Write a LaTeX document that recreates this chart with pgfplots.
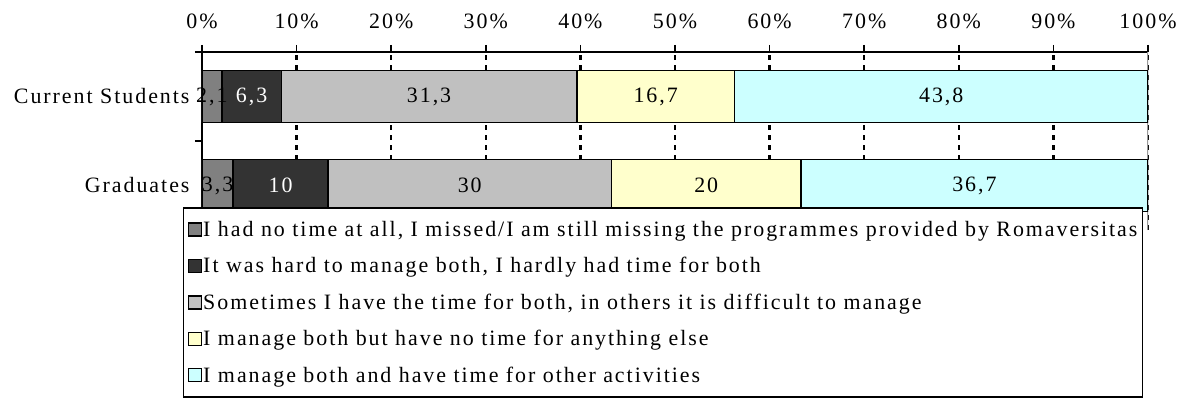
\documentclass[border=0pt]{standalone}
\usepackage{pgfplots}
\pgfplotsset{compat=1.18}
\usepackage{pgfplotstable}
\usepackage{fontspec}
\setmainfont{Liberation Serif}[LetterSpace=9]
\definecolor{c1}{HTML}{808080}
\definecolor{c2}{HTML}{333333}
\definecolor{c3}{HTML}{C0C0C0}
\definecolor{c4}{HTML}{FFFFCC}
\definecolor{c5}{HTML}{CCFFFF}
\pgfplotsset{sqlegend/.style={legend image code/.code={\draw[##1,line width=1.5bp] (0bp,-6.5bp) rectangle (13bp,6.5bp);}}}
% y: 1 = Current Students, 0 = Graduates.
% Current Students values are rescaled to a 100% total (their raw sum is 100.2); labels keep the raw values.
\pgfplotstableread{
y x lab
1 2.0958 2,1
0 3.3 3,3
}\sA
\pgfplotstableread{
y x lab
1 6.2874 6,3
0 10 10
}\sB
\pgfplotstableread{
y x lab
1 31.2375 31,3
0 30 30
}\sC
\pgfplotstableread{
y x lab
1 16.6667 16,7
0 20 20
}\sD
\pgfplotstableread{
y x lab
1 43.7126 43,8
0 36.7 36,7
}\sE
\begin{document}
\begin{tikzpicture}[font=\fontsize{22}{26}\selectfont]
\begin{axis}[name=ax, scale only axis, width=946bp, height=178bp,
  xbar stacked, bar width=52bp,
  every axis plot post/.append style={sqlegend},
  xmin=0, xmax=100, ymin=-0.5, ymax=1.5,
  axis x line*=top, axis y line*=left,
  axis line style={black, line width=1.5bp},
  xtick={0,10,...,100},
  xticklabel={\pgfmathprintnumber{\tick}\%},
  xticklabel style={yshift=13bp},
  /pgf/number format/assume math mode=true,
  xmajorgrids, major grid style={black, line width=2.5bp, dash pattern=on 5bp off 5bp},
  ytick={-0.5,0.5,1.5}, yticklabels={},
  extra y ticks={0,1}, extra y tick labels={Graduates,Current Students},
  extra y tick style={major tick length=0pt, yticklabel style={xshift=-9bp}},
  tick align=outside, major tick length=7bp, tick style={black, line width=1.5bp},
  nodes near coords={\pgfplotspointmeta}, point meta=explicit symbolic,
  every node near coord/.append style={anchor=center, text=black},
  legend style={at={(-0.0201,0.1292)}, anchor=north west, draw=black, line width=1.5bp, fill=white,
    row sep=17.5bp, inner xsep=4bp, inner ysep=12.5bp, nodes={inner sep=1bp},
    /tikz/every even column/.append style={column sep=3bp}},
  legend cell align=left,
]
\addplot[fill=c1, draw=black, line width=1.5bp] table[x=x, y=y, meta=lab] {\sA};
\addplot[fill=c2, draw=black, line width=1.5bp, every node near coord/.append style={text=white}] table[x=x, y=y, meta=lab] {\sB};
\addplot[fill=c3, draw=black, line width=1.5bp] table[x=x, y=y, meta=lab] {\sC};
\addplot[fill=c4, draw=black, line width=1.5bp] table[x=x, y=y, meta=lab] {\sD};
\addplot[fill=c5, draw=black, line width=1.5bp] table[x=x, y=y, meta=lab] {\sE};
\draw[black!40, line width=1.5bp] (rel axis cs:1,1) -- (rel axis cs:1,0);
\legend{{I had no time at all, I missed/I am still missing the programmes provided by Romaversitas},
  {It was hard to manage both, I hardly had time for both},
  {Sometimes I have the time for both, in others it is difficult to manage},
  {I manage both but have no time for anything else},
  {I manage both and have time for other activities\rule[-11bp]{0pt}{11bp}}}
\end{axis}
\pgfresetboundingbox
\path ([xshift=-202bp,yshift=52bp]ax.north west) rectangle ([xshift=36bp,yshift=-355bp]ax.north east);
\end{tikzpicture}
\end{document}
